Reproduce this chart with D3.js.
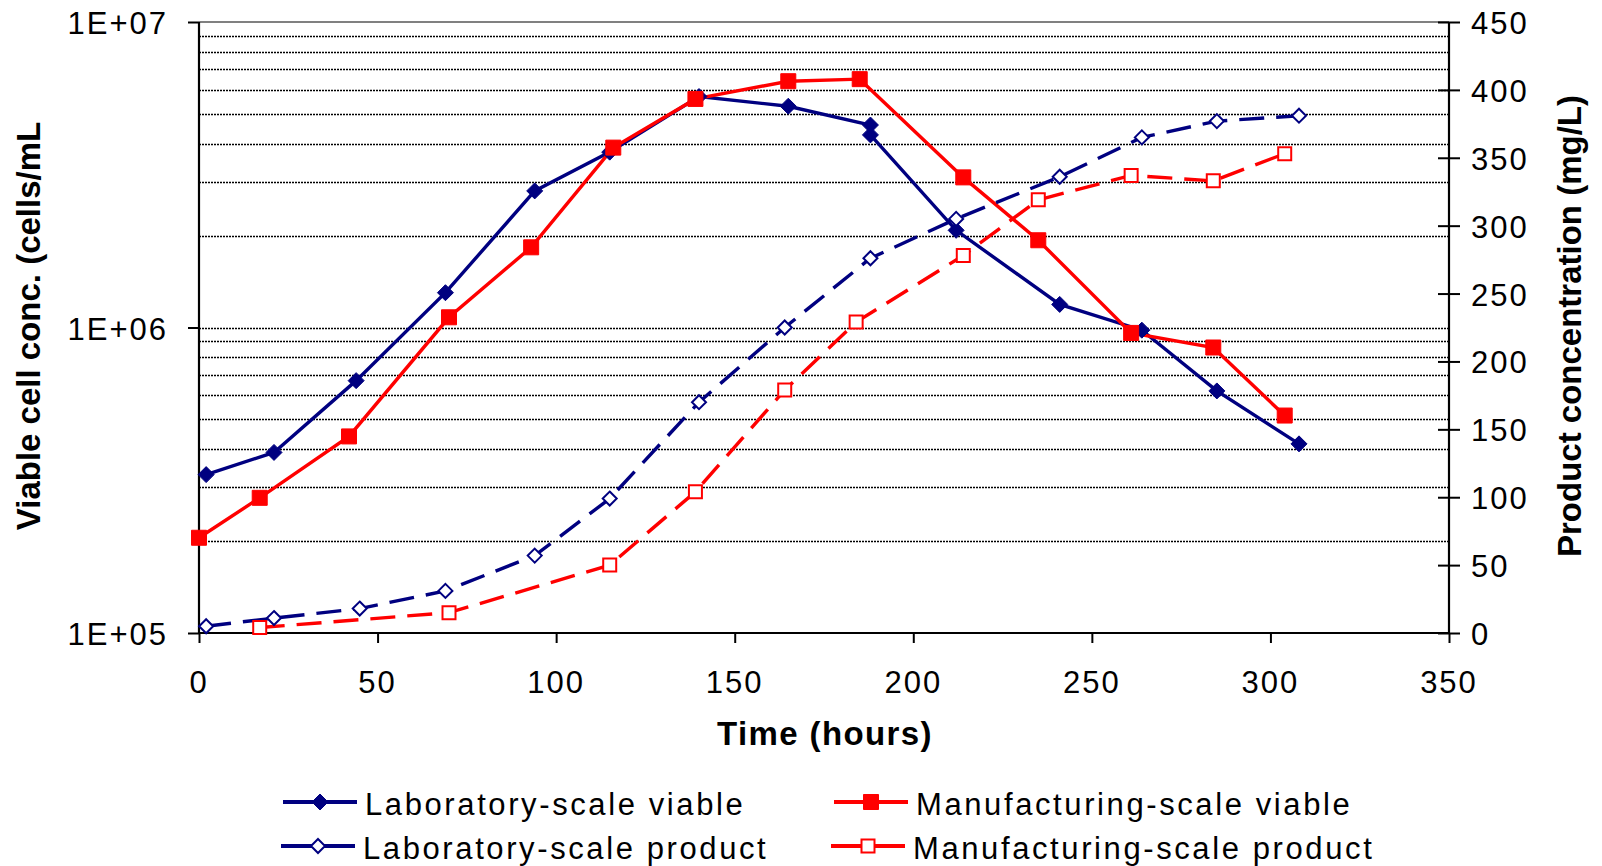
<!DOCTYPE html>
<html>
<head>
<meta charset="utf-8">
<script src="https://cdn.jsdelivr.net/npm/d3@7"></script>
<style>
  body { margin: 0; background: #fff; }
  text { font-family: "Liberation Sans", Arial, sans-serif; fill: #000; }
</style>
</head>
<body>
<div class="graph"></div>
<script>
// data
const labViableTime = [2, 21, 44, 69, 94, 115, 140, 165, 188, 188, 212, 241, 264, 285, 308];
const labViable = [3.3e5, 3.9e5, 6.7e5, 1.3e6, 2.8e6, 3.75e6, 5.7e6, 5.3e6, 4.6e6, 4.27e6, 2.08e6, 1.19e6, 9.8e5, 6.2e5, 4.16e5];

const labProductTime = [2, 21, 45, 69, 94, 115, 140, 164, 188, 212, 241, 264, 285, 308];
const labProduct = [5, 11, 18, 31, 57, 99, 170, 225, 276, 305, 336, 365, 377, 381];

const mfgViableTime = [0, 17, 42, 70, 93, 116, 139, 165, 185, 214, 235, 261, 284, 304];
const mfgViable = [2.05e5, 2.77e5, 4.4e5, 1.08e6, 1.83e6, 3.88e6, 5.6e6, 6.4e6, 6.5e6, 3.1e6, 1.93e6, 9.6e5, 8.6e5, 5.15e5];

const mfgProductTime = [17, 70, 115, 139, 164, 184, 214, 235, 261, 284, 304];
const mfgProduct = [4, 15, 50, 104, 179, 229, 278, 319, 337, 333, 353];

const xTicks = [0, 50, 100, 150, 200, 250, 300, 350];
const leftTicks = [1e5, 1e6, 1e7];
const leftTickLabels = ["1E+05", "1E+06", "1E+07"];
const rightTicks = [0, 50, 100, 150, 200, 250, 300, 350, 400, 450];

const legendNames = ["Laboratory-scale viable", "Manufacturing-scale viable", "Laboratory-scale product", "Manufacturing-scale product"];

const navy = "#000080", red = "#ff0000";

const plotL = 199, plotR = 1449, plotT = 22, plotB = 633;

var svg = d3.select(".graph").append("svg")
    .attr("width", 1602)
    .attr("height", 866);

var x = d3.scaleLinear().domain([0, 350]).range([plotL, plotR]);
var yL = d3.scaleLog().domain([1e5, 1e7]).range([plotB, plotT]);
var yR = d3.scaleLinear().domain([0, 450]).range([plotB, plotT]);

// dotted gridlines at every log step
var gridVals = [];
for (let d = 1e5; d < 1e7; d *= 10) {
    for (let k = 1; k <= 9; k++) {
        if (d * k > 1e5) gridVals.push(d * k);
    }
}
svg.append("g").selectAll("line")
    .data(gridVals)
    .enter().append("line")
    .attr("x1", plotL).attr("x2", plotR)
    .attr("y1", d => Math.round(yL(d)) + 0.5)
    .attr("y2", d => Math.round(yL(d)) + 0.5)
    .style("stroke", "#000")
    .style("stroke-width", 1.4)
    .style("stroke-dasharray", "2,1");

// plot area top border
svg.append("line")
    .attr("x1", plotL).attr("x2", plotR)
    .attr("y1", plotT).attr("y2", plotT)
    .style("stroke", "#808080").style("stroke-width", 2);

// axes
var xAxis = svg.append("g")
    .attr("transform", "translate(0," + plotB + ")")
    .call(d3.axisBottom(x).tickValues(xTicks).tickSize(10).tickFormat(""));
var lAxis = svg.append("g")
    .attr("transform", "translate(" + plotL + ",0)")
    .call(d3.axisLeft(yL).tickValues(leftTicks).tickSize(11).tickFormat(""));
var rAxis = svg.append("g")
    .attr("transform", "translate(" + plotR + ",0)")
    .call(d3.axisRight(yR).tickValues(rightTicks).tickSize(11).tickFormat(""));
rAxis.selectAll(".tick line").attr("x1", -11);

[xAxis, lAxis, rAxis].forEach(a => {
    a.select(".domain").attr("stroke", "#000").attr("stroke-width", 2.2);
    a.selectAll(".tick line").attr("stroke", "#000").attr("stroke-width", 2);
});
xAxis.select(".domain").attr("d", "M" + plotL + ",0H" + plotR);
lAxis.select(".domain").attr("d", "M0," + plotB + "V" + plotT);
rAxis.select(".domain").attr("d", "M0," + plotB + "V" + plotT);

// tick labels
svg.append("g").selectAll("text")
    .data(xTicks)
    .enter().append("text")
    .attr("x", d => x(d))
    .attr("y", 693)
    .style("text-anchor", "middle")
    .style("font-size", "31px")
    .style("letter-spacing", "2px")
    .text(d => d);

svg.append("g").selectAll("text")
    .data(leftTicks)
    .enter().append("text")
    .attr("x", 168)
    .attr("y", d => yL(d) + 12)
    .style("text-anchor", "end")
    .style("font-size", "31px")
    .style("letter-spacing", "2px")
    .text((d, i) => leftTickLabels[i]);

svg.append("g").selectAll("text")
    .data(rightTicks)
    .enter().append("text")
    .attr("x", 1471)
    .attr("y", d => yR(d) + 12)
    .style("font-size", "31px")
    .style("letter-spacing", "2px")
    .text(d => d);

// axis titles
svg.append("text")
    .attr("transform", "translate(40,326) rotate(-90)")
    .style("text-anchor", "middle")
    .style("font-size", "33px")
    .style("font-weight", "bold")
    .text("Viable cell conc. (cells/mL");

svg.append("text")
    .attr("transform", "translate(1581,326) rotate(-90)")
    .style("text-anchor", "middle")
    .style("font-size", "33px")
    .style("font-weight", "bold")
    .text("Product concentration (mg/L)");

svg.append("text")
    .attr("x", 825).attr("y", 745)
    .style("text-anchor", "middle")
    .style("font-size", "33px")
    .style("font-weight", "bold")
    .style("letter-spacing", "1.4px")
    .text("Time (hours)");

// series
function zip(ts, vs) { return ts.map((t, i) => [t, vs[i]]); }

var series = [
    { pts: zip(labViableTime, labViable), y: yL, color: navy, dash: null, marker: "diamond", fill: true },
    { pts: zip(mfgViableTime, mfgViable), y: yL, color: red, dash: null, marker: "square", fill: true },
    { pts: zip(labProductTime, labProduct), y: yR, color: navy, dash: "25,12", marker: "diamond", fill: false },
    { pts: zip(mfgProductTime, mfgProduct), y: yR, color: red, dash: "25,12", marker: "square", fill: false }
];

function markerPath(type, fill) {
    if (type == "diamond") {
        var s = fill ? 8 : 7;
        return "M0," + (-s) + "L" + s + ",0L0," + s + "L" + (-s) + ",0Z";
    }
    var h = fill ? 7.5 : 6.5;
    return "M" + (-h) + "," + (-h) + "H" + h + "V" + h + "H" + (-h) + "Z";
}

series.forEach(s => {
    var line = d3.line().x(d => x(d[0])).y(d => s.y(d[1]));
    svg.append("path")
        .attr("d", line(s.pts))
        .style("fill", "none")
        .style("stroke", s.color)
        .style("stroke-width", 3.4)
        .style("stroke-dasharray", s.dash);
});

series.forEach(s => {
    svg.append("g").selectAll("path")
        .data(s.pts)
        .enter().append("path")
        .attr("transform", d => "translate(" + x(d[0]) + "," + s.y(d[1]) + ")")
        .attr("d", markerPath(s.marker, s.fill))
        .style("fill", s.fill ? s.color : "#fff")
        .style("stroke", s.color)
        .style("stroke-width", s.fill ? 1 : 2);
});

// legend
var legendPos = [[283, 802], [834, 802], [281, 846], [831, 846]];
series.forEach((s, i) => {
    var p = legendPos[i];
    var g = svg.append("g").attr("transform", "translate(" + p[0] + "," + p[1] + ")");
    g.append("line")
        .attr("x1", 0).attr("x2", 74)
        .style("stroke", s.color)
        .style("stroke-width", 4);
    g.append("path")
        .attr("transform", "translate(37,0)")
        .attr("d", markerPath(s.marker, s.fill))
        .style("fill", s.fill ? s.color : "#fff")
        .style("stroke", s.color)
        .style("stroke-width", s.fill ? 1 : 2);
    g.append("text")
        .attr("x", 82).attr("y", 13)
        .style("font-size", "31px")
        .style("letter-spacing", "2.6px")
        .text(legendNames[i]);
});
</script>
</body>
</html>
